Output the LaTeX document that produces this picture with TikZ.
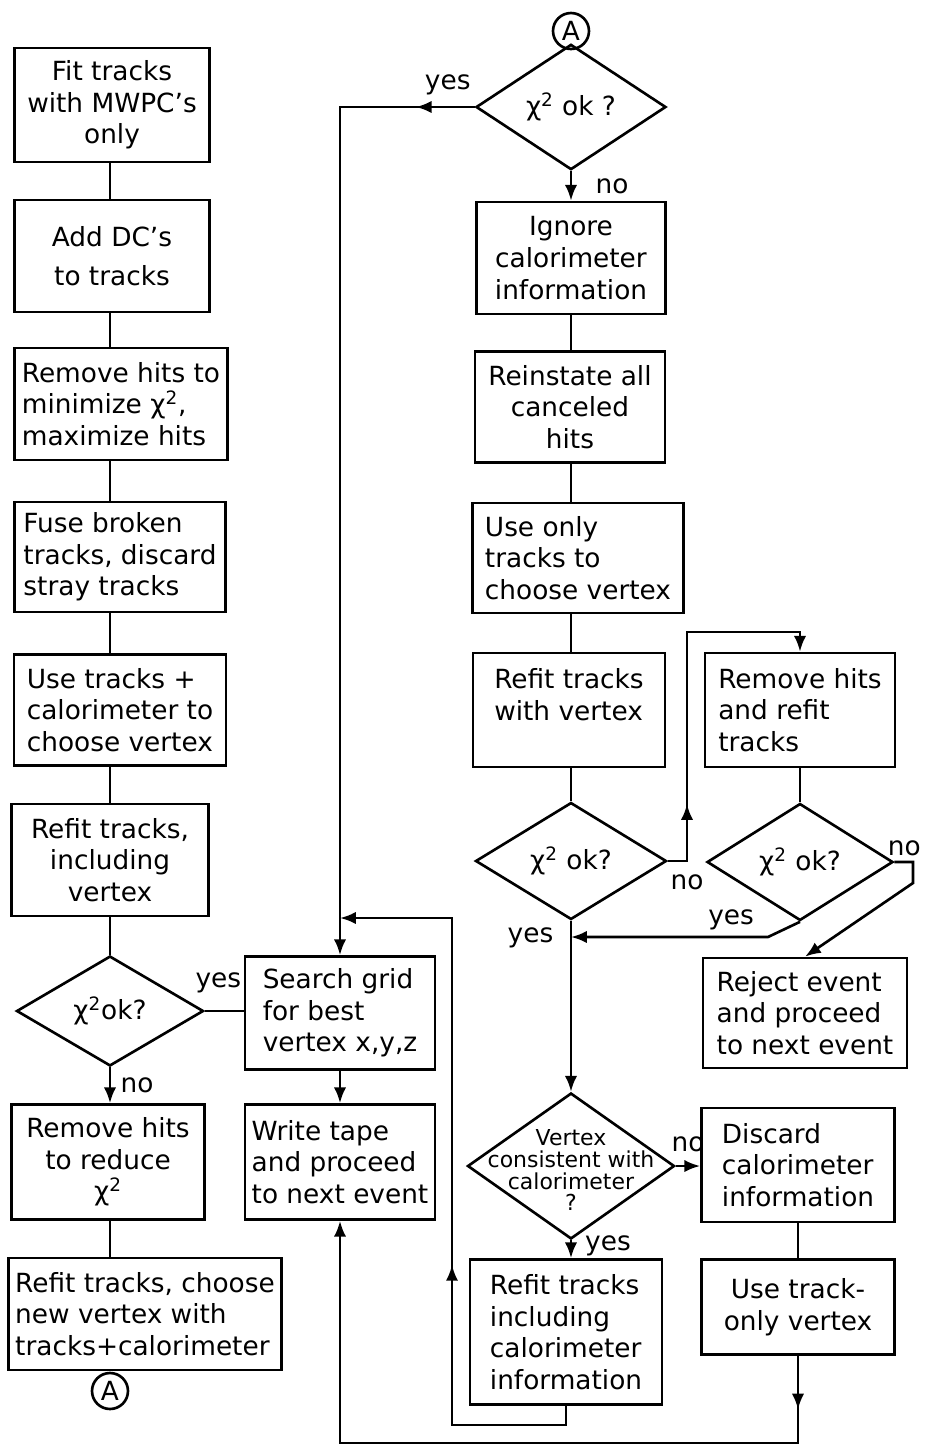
\documentclass[tikz,border=0pt]{standalone}
\usepackage{fontspec}
\setmainfont{DejaVu Sans}
\usetikzlibrary{shapes.geometric,arrows.meta,decorations.markings}
\tikzset{
  box/.style={draw, align=center, inner sep=3pt},
  boxl/.style={box, align=left},
  test/.style={draw, diamond, inner sep=1pt},
  conn/.style={draw, circle, minimum size=0.72cm, inner sep=0pt},
  marr/.style={postaction={decorate},
    decoration={markings, mark=at position #1 with {\arrow{>}}}}
}
\newcommand{\chisq}{χ\textsuperscript{2}}
\begin{document}
\begin{tikzpicture}[x=0.02cm, y=-0.02cm, line width=1.5pt,
    >={Latex[length=9pt,width=7pt]}, font=\fontsize{15}{18}\selectfont]
  \useasboundingbox (0,0) rectangle (926,1448);
  % left column
  \node[box, minimum width=3.9cm, minimum height=2.28cm] (fit) at (112,105) {Fit tracks\\with MWPC’s\\only};
  \node[box, minimum width=3.9cm, minimum height=2.24cm] (addc) at (112,256) {Add DC’s\\[4pt]to tracks};
  \node[boxl, minimum width=4.26cm, minimum height=2.24cm] (rmmin) at (121,404) {Remove hits to\\minimize \chisq,\\maximize hits};
  \node[boxl, minimum width=4.22cm, minimum height=2.2cm] (fuse) at (120,557) {Fuse broken\\tracks, discard\\stray tracks};
  \node[boxl, minimum width=4.24cm, minimum height=2.22cm] (usecal) at (120,710) {Use tracks +\\calorimeter to\\choose vertex};
  \node[box, minimum width=3.94cm, minimum height=2.24cm] (refitv) at (110,860) {Refit tracks,\\including\\vertex};
  \node[test, minimum width=3.74cm, minimum height=2.2cm] (okL) at (110,1011) {\chisq{}ok?};
  \node[box, minimum width=3.86cm, minimum height=2.3cm] (rmred) at (108,1162) {Remove hits\\to reduce\\\chisq};
  \node[boxl, minimum width=5.46cm, minimum height=2.24cm] (refitnew) at (145,1314) {Refit tracks, choose\\new vertex with\\tracks+calorimeter};
  \node[conn] (conA2) at (110,1391) {A};
  % middle column
  \node[box, minimum width=3.8cm, minimum height=2.26cm] (search) at (340,1013) {};
  \node[align=left] (searchTxt) at (search.center) {Search grid\\for best\\vertex x,y,z};
  \node[boxl, minimum width=3.8cm, minimum height=2.3cm] (write) at (340,1162) {Write tape\\and proceed\\to next event};
  % right columns
  \node[conn] (conA1) at (571,31) {A};
  \node[test, minimum width=3.8cm, minimum height=2.26cm] (okT) at (571,107) {\chisq{} ok ?};
  \node[box, minimum width=3.78cm, minimum height=2.24cm] (ignore) at (571,258) {Ignore\\calorimeter\\information};
  \node[box, minimum width=3.8cm, minimum height=2.22cm] (reinst) at (570,407) {Reinstate all\\canceled\\hits};
  \node[boxl, minimum width=4.22cm, minimum height=2.2cm] (useonly) at (578,558) {Use only\\tracks to\\choose vertex};
  \node[boxl, minimum width=3.84cm, minimum height=2.28cm] (refitw) at (569,710) {Refit tracks\\with vertex\\\mbox{}};
  \node[test, minimum width=3.82cm, minimum height=2.2cm] (okM) at (571,861) {\chisq{} ok?};
  \node[boxl, minimum width=3.8cm, minimum height=2.28cm] (rmrefit) at (800,710) {Remove hits\\and refit\\tracks};
  \node[test, minimum width=3.72cm, minimum height=2.28cm] (okR) at (800,862) {\chisq{} ok?};
  \node[boxl, minimum width=4.08cm, minimum height=2.2cm] (reject) at (805,1013) {Reject event\\and proceed\\to next event};
  \node[test, minimum width=4.14cm, minimum height=2.92cm] (vcons) at (571,1166) {};
  \node[align=center, font=\fontsize{12.5}{12.5}\selectfont] (vconsTxt) at (571,1170) {Vertex\\consistent with\\calorimeter\\?};
  \node[boxl, minimum width=3.86cm, minimum height=2.28cm] (discard) at (798,1165) {Discard\\calorimeter\\information};
  \node[box, minimum width=3.86cm, minimum height=1.9cm] (usetrk) at (798,1307) {Use track-\\only vertex};
  \node[boxl, minimum width=3.84cm, minimum height=2.9cm] (refitcal) at (566,1332) {Refit tracks\\including\\calorimeter\\information};
  \coordinate (nA) at (687,632);
  \coordinate (yB) at (768,937);
  \coordinate (nB) at (913,883);
  \coordinate (fbA) at (452,1425);
  \coordinate (fbB) at (452,918);
  \coordinate (btm) at (798,1443);

  \foreach \a/\b in {fit/addc, addc/rmmin, rmmin/fuse, fuse/usecal, usecal/refitv, refitv/okL}
    \draw (\a.south -| okL) -- (\b.north -| okL);
  \draw[->] (okL.south) -- (okL.south |- rmred.north) node[midway, right=2pt] {no};
  \draw (okL.south |- rmred.south) -- (okL.south |- refitnew.north);
  \draw (okL.east) -- (okL.east -| search.west) node[pos=0.35, above=6pt] {yes};
  \draw[->] (search.south) -- (write.north);

  \draw[->, marr=0.06] (okT.west) -| (search.north) node[pos=0.1, above=3pt] {yes};
  \draw[->] (okT.south) -- (ignore.north) node[midway, right=10pt] {no};
  \foreach \a/\b in {ignore/reinst, reinst/useonly, useonly/refitw, refitw/okM}
    \draw (\a.south -| okT) -- (\b.north -| okT);
  \draw[->, marr=0.2] (okM.east) -| (nA) -| (rmrefit.north);
  \node[below=4pt] (noM) at (okM.east -| nA) {no};
  \draw (rmrefit.south) -- (okR.north);
  \draw[->] (okR.south) -- (yB) -- (yB -| okM.south);
  \node[above left, xshift=-4pt] (yesR) at (yB) {yes};
  \draw[->] (okR.east) -| (nB) -- (reject.north);
  \node[above=2pt, inner sep=1pt, xshift=-5pt] (noR) at (okR.east -| nB) {no};
  \draw[->] (okM.south) -- (vcons.north) node[pos=0.1, left=6pt] {yes};
  \draw[->] (vcons.east) -- (vcons.east -| discard.west) node[midway, above=4pt] {no};
  \draw[->] (vcons.south) -- (vcons.south |- refitcal.north) node[pos=0.3, right=4pt] {yes};
  \draw (discard.south) -- (usetrk.north);
  \draw[->, marr=0.07] (usetrk.south) -- (btm) -| (write.south);
  \draw[->, marr=0.39] (refitcal.south) |- (fbA) -- (fbB) -- (fbB -| search.north);
\end{tikzpicture}
\end{document}
